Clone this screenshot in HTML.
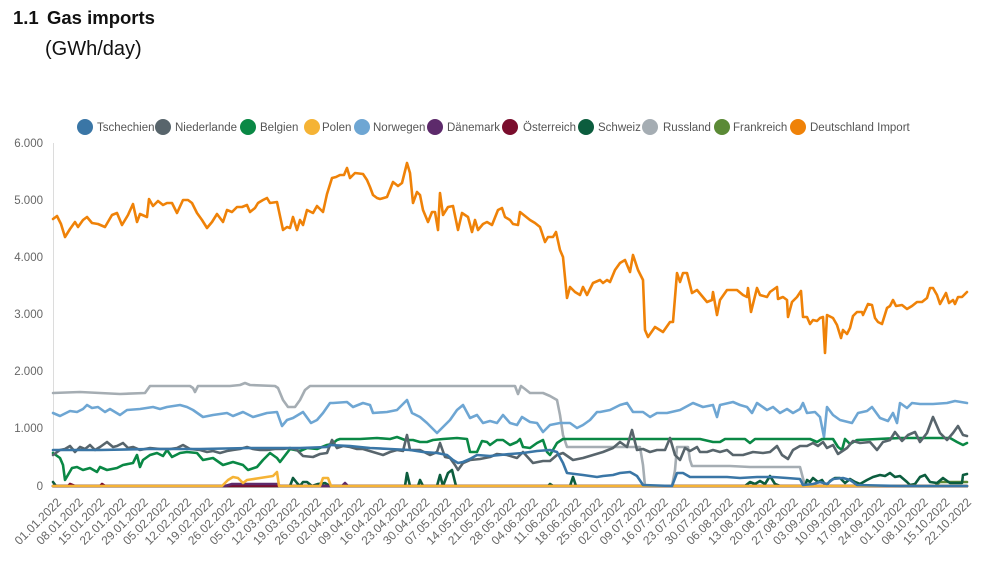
<!DOCTYPE html>
<html><head><meta charset="utf-8"><style>
html,body{margin:0;padding:0;background:#fff;}
svg{display:block;}
text{font-family:"Liberation Sans",Arial,sans-serif;}
</style></head><body>
<svg width="991" height="580" viewBox="0 0 991 580" xmlns="http://www.w3.org/2000/svg">
<rect width="991" height="580" fill="#fff"/>
<text x="13" y="24" font-size="18.5" font-weight="bold" fill="#111">1.1</text>
<text x="47" y="24" font-size="18.5" font-weight="bold" fill="#111">Gas imports</text>
<text x="45" y="55" font-size="20" fill="#111">(GWh/day)</text>

<!-- legend -->
<g font-size="11.5" fill="#555">
<circle cx="85" cy="127" r="8" fill="#3a76a6"/><text x="97" y="131">Tschechien</text>
<circle cx="163" cy="127" r="8" fill="#58656c"/><text x="175" y="131">Niederlande</text>
<circle cx="248" cy="127" r="8" fill="#0a8845"/><text x="260" y="131">Belgien</text>
<circle cx="312" cy="127" r="8" fill="#f5b335"/><text x="322" y="131">Polen</text>
<circle cx="362" cy="127" r="8" fill="#6ea6d3"/><text x="373" y="131">Norwegen</text>
<circle cx="435" cy="127" r="8" fill="#5d2a6b"/><text x="447" y="131">Dänemark</text>
<circle cx="510" cy="127" r="8" fill="#7a0d2d"/><text x="523" y="131">Österreich</text>
<circle cx="586" cy="127" r="8" fill="#0c5d3e"/><text x="598" y="131">Schweiz</text>
<circle cx="650" cy="127" r="8" fill="#a5adb3"/><text x="663" y="131">Russland</text>
<circle cx="722" cy="127" r="8" fill="#5b8a36"/><text x="733" y="131">Frankreich</text>
<circle cx="798" cy="127" r="8" fill="#ef8208"/><text x="810" y="131">Deutschland Import</text>
</g>

<!-- axes -->
<line x1="53.5" y1="143" x2="53.5" y2="487" stroke="#dcdcdc" stroke-width="1"/>
<line x1="53" y1="487.5" x2="968" y2="487.5" stroke="#e2e2e2" stroke-width="1"/>
<g font-size="11.5" fill="#666" text-anchor="end">
<text x="43" y="147">6.000</text>
<text x="43" y="204">5.000</text>
<text x="43" y="261">4.000</text>
<text x="43" y="318">3.000</text>
<text x="43" y="375">2.000</text>
<text x="43" y="432">1.000</text>
<text x="43" y="490">0</text>
</g>

<g font-size="12" fill="#666" text-anchor="end">
<text transform="translate(62,503) rotate(-45)">01.01.2022</text>
<text transform="translate(83.7,503) rotate(-45)">08.01.2022</text>
<text transform="translate(105.3,503) rotate(-45)">15.01.2022</text>
<text transform="translate(127,503) rotate(-45)">22.01.2022</text>
<text transform="translate(148.7,503) rotate(-45)">29.01.2022</text>
<text transform="translate(170.3,503) rotate(-45)">05.02.2022</text>
<text transform="translate(192,503) rotate(-45)">12.02.2022</text>
<text transform="translate(213.7,503) rotate(-45)">19.02.2022</text>
<text transform="translate(235.3,503) rotate(-45)">26.02.2022</text>
<text transform="translate(257,503) rotate(-45)">05.03.2022</text>
<text transform="translate(278.7,503) rotate(-45)">12.03.2022</text>
<text transform="translate(300.3,503) rotate(-45)">19.03.2022</text>
<text transform="translate(322,503) rotate(-45)">26.03.2022</text>
<text transform="translate(343.7,503) rotate(-45)">02.04.2022</text>
<text transform="translate(365.3,503) rotate(-45)">09.04.2022</text>
<text transform="translate(387,503) rotate(-45)">16.04.2022</text>
<text transform="translate(408.7,503) rotate(-45)">23.04.2022</text>
<text transform="translate(430.3,503) rotate(-45)">30.04.2022</text>
<text transform="translate(452,503) rotate(-45)">07.05.2022</text>
<text transform="translate(473.7,503) rotate(-45)">14.05.2022</text>
<text transform="translate(495.3,503) rotate(-45)">21.05.2022</text>
<text transform="translate(517,503) rotate(-45)">28.05.2022</text>
<text transform="translate(538.7,503) rotate(-45)">04.06.2022</text>
<text transform="translate(560.3,503) rotate(-45)">11.06.2022</text>
<text transform="translate(582,503) rotate(-45)">18.06.2022</text>
<text transform="translate(603.7,503) rotate(-45)">25.06.2022</text>
<text transform="translate(625.3,503) rotate(-45)">02.07.2022</text>
<text transform="translate(647,503) rotate(-45)">09.07.2022</text>
<text transform="translate(668.7,503) rotate(-45)">16.07.2022</text>
<text transform="translate(690.3,503) rotate(-45)">23.07.2022</text>
<text transform="translate(712,503) rotate(-45)">30.07.2022</text>
<text transform="translate(733.7,503) rotate(-45)">06.08.2022</text>
<text transform="translate(755.3,503) rotate(-45)">13.08.2022</text>
<text transform="translate(777,503) rotate(-45)">20.08.2022</text>
<text transform="translate(798.7,503) rotate(-45)">27.08.2022</text>
<text transform="translate(820.3,503) rotate(-45)">03.09.2022</text>
<text transform="translate(842,503) rotate(-45)">10.09.2022</text>
<text transform="translate(863.7,503) rotate(-45)">17.09.2022</text>
<text transform="translate(885.3,503) rotate(-45)">24.09.2022</text>
<text transform="translate(907,503) rotate(-45)">01.10.2022</text>
<text transform="translate(928.7,503) rotate(-45)">08.10.2022</text>
<text transform="translate(950.3,503) rotate(-45)">15.10.2022</text>
<text transform="translate(972,503) rotate(-45)">22.10.2022</text>
</g>

<g fill="none" stroke-width="2.6" stroke-linejoin="round" stroke-linecap="round">
<!-- Deutschland Import -->
<polyline stroke="#ef8208" points="53,219 57,216 61,224 65,237 70,229 75,222 78,227 83,220 87,217 92,223 98,224 105,227 112,215 117,213 122,225 128,215 133,204 137,222 140,214 147,217 149,199 153,206 158,201 163,205 167,203 172,203 177,213 183,200 188,200 192,203 197,213 202,220 207,228 212,222 217,214 223,222 227,210 232,212 237,207 242,207 247,205 250,212 255,208 258,203 263,200 267,198 270,203 277,202 283,230 287,227 290,228 293,217 297,230 300,220 303,225 307,210 313,213 317,206 323,212 327,194 332,178 336,177 340,175 344,175 347,168 350,178 355,173 363,174 367,180 370,187 373,195 377,198 380,199 387,197 393,182 398,186 402,183 407,163 410,173 413,203 417,192 420,195 423,210 428,222 432,212 435,212 438,230 440,193 443,215 448,207 453,206 458,230 462,213 468,217 472,232 475,220 478,230 483,224 487,222 492,225 498,210 502,208 505,217 510,220 513,224 518,225 520,212 525,216 530,220 535,223 540,227 545,242 548,237 553,237 556,232 560,250 563,257 567,298 570,287 575,292 580,295 583,287 587,295 593,283 600,280 603,283 607,280 610,282 615,270 620,263 625,260 630,272 633,255 638,270 643,280 645,330 648,337 655,327 663,332 670,322 673,322 677,273 680,282 683,273 687,273 692,293 697,290 702,296 707,302 712,300 713,292 717,315 720,300 727,290 737,290 743,295 747,297 748,288 751,312 757,288 760,295 767,297 770,292 777,287 778,299 783,297 787,300 788,317 792,302 797,297 801,291 803,317 807,317 810,324 813,320 817,321 820,318 823,317 825,353 827,315 833,318 837,325 841,338 843,330 847,334 850,328 853,316 857,312 862,312 863,315 868,304 872,305 875,318 878,322 882,324 887,308 890,306 893,300 896,306 902,305 907,309 912,306 917,302 922,302 927,298 930,288 933,288 937,295 940,304 946,293 949,303 953,300 955,304 958,297 962,297 967,292"/>
<!-- Frankreich -->
<polyline stroke="#5b8a36" points="53,486 935,486 940,482 967,482"/>
<!-- Russland -->
<polyline stroke="#a5adb3" points="53,393 80,392 100,393 120,394 145,393 150,386 190,386 193,388 195,392 198,386 230,386 240,385 245,383 250,385 275,386 278,388 283,400 288,407 295,407 300,400 305,390 310,386 340,386 400,386 450,386 515,386 518,394 521,386 525,389 530,393 543,393 550,396 557,400 560,415 563,435 567,447 600,447 640,447 643,465 645,486 672,486 675,470 677,447 688,447 690,460 692,466 730,466 750,467 770,467 790,467 800,467 805,486 967,486"/>
<!-- Schweiz -->
<polyline stroke="#0c5d3e" points="53,482 56,486 290,486 293,478 297,483 300,486 303,482 307,482 312,486 318,484 325,483 330,486 405,486 407,473 410,486 418,486 420,480 423,486 437,486 440,475 443,486 448,473 452,470 456,486 548,486 550,484 553,486 570,486 573,477 576,486 745,486 750,482 755,484 760,481 765,484 770,476 775,484 780,486 805,486 807,480 810,482 813,478 818,482 822,480 826,486 830,481 835,478 840,478 845,483 850,479 855,482 860,484 867,480 873,477 880,475 885,476 890,473 895,477 900,476 907,482 910,485 915,484 920,477 925,475 930,482 937,483 943,478 950,483 955,483 962,483 963,475 967,474"/>
<!-- Österreich -->
<polyline stroke="#7a0d2d" points="53,486 68,486 70,484 75,486 100,486 102,484 105,486 967,486"/>
<!-- Dänemark -->
<polyline stroke="#5d2a6b" points="53,486 225,486 232,484 278,484 280,486 342,486 345,483 348,486 967,486"/>
<!-- Norwegen -->
<polyline stroke="#6ea6d3" points="53,413 60,416 70,411 77,412 83,409 87,405 92,408 98,407 105,412 110,409 120,415 127,410 140,409 153,407 160,409 167,407 180,405 187,407 193,410 203,417 213,415 227,413 233,416 243,412 253,417 267,413 277,412 282,426 287,420 293,418 303,412 311,423 317,420 323,413 330,403 333,403 347,402 353,407 363,403 370,405 373,413 387,412 397,410 407,400 412,413 420,417 427,423 437,433 443,427 450,420 457,410 463,405 470,418 477,415 483,423 490,421 497,423 503,415 510,423 517,425 522,417 530,422 537,423 543,432 550,425 560,423 570,423 577,428 583,425 590,420 597,412 600,412 610,410 620,405 627,403 633,412 643,412 650,417 657,413 667,413 680,410 693,403 703,407 713,405 717,417 720,405 733,402 740,405 747,407 752,413 757,403 767,410 773,407 780,413 787,409 793,413 800,409 803,403 807,413 815,412 820,417 824,437 827,407 833,415 840,420 852,423 858,413 867,411 872,407 880,418 888,421 893,413 897,423 900,403 907,408 912,403 920,404 933,404 947,403 955,401 967,403"/>
<!-- Polen -->
<polyline stroke="#f5b335" points="53,486 222,486 228,480 233,477 238,478 243,483 247,480 260,478 273,476 277,472 279,486 320,486 323,478 328,478 331,486 967,486"/>
<!-- Belgien -->
<polyline stroke="#0a8845" points="53,453 60,458 63,465 65,480 72,468 77,467 83,470 90,468 97,472 100,467 107,470 117,468 123,465 133,463 137,455 140,467 143,460 150,455 157,453 163,456 167,450 172,457 180,453 187,452 197,453 203,460 213,458 223,465 233,462 243,465 248,470 257,467 263,460 270,453 277,458 280,462 290,449 300,451 307,448 317,449 327,445 332,444 337,440 340,439 360,439 377,438 390,439 397,437 405,440 413,440 420,442 427,442 433,440 443,439 457,438 467,439 470,452 477,452 482,441 487,442 490,445 497,440 503,440 510,445 517,442 520,439 523,447 530,448 537,443 543,440 547,452 550,455 557,443 563,439 600,439 640,439 700,439 713,442 720,442 725,439 745,439 750,443 755,439 810,439 817,442 822,439 833,439 838,447 842,450 845,439 850,444 857,440 900,438 950,438 957,442 963,445 967,443"/>
<!-- Niederlande -->
<polyline stroke="#58656c" points="53,455 60,450 65,449 70,446 75,452 80,447 85,449 90,445 95,450 100,447 107,442 113,447 117,446 123,443 128,448 133,447 140,450 150,448 160,449 170,449 177,448 183,445 190,449 200,450 207,452 213,451 220,453 227,451 233,450 240,449 247,447 253,449 260,450 267,450 275,449 283,449 290,448 297,450 303,456 313,457 320,454 327,453 332,440 337,448 343,446 350,447 357,449 363,449 373,452 383,455 390,452 397,450 403,451 407,435 410,450 420,450 430,455 437,452 440,443 445,457 450,458 455,465 458,470 463,463 470,460 480,459 490,457 497,454 507,455 517,458 523,452 533,463 543,461 550,461 557,455 563,453 573,460 583,458 593,455 603,452 613,448 620,442 627,447 632,430 637,450 643,449 650,452 657,450 665,450 670,438 675,455 680,460 685,448 690,451 697,447 700,452 707,452 713,450 720,452 727,450 733,455 743,455 753,452 763,453 770,452 777,446 782,455 788,459 793,450 800,446 807,446 813,443 818,446 823,442 827,448 833,445 838,454 847,448 853,441 860,443 870,442 877,450 883,442 890,440 895,432 902,441 908,435 915,432 920,442 927,433 933,417 940,433 947,440 953,433 958,426 963,435 967,436"/>
<!-- Tschechien -->
<polyline stroke="#3a76a6" points="53,450 100,450 150,449 200,449 250,448 300,448 327,447 330,445 350,446 370,448 390,449 410,450 423,452 437,453 447,455 453,460 458,463 463,462 470,459 477,455 490,456 500,455 510,454 523,453 537,451 550,450 557,452 563,463 567,473 583,475 597,477 603,476 613,475 620,473 630,472 637,476 643,485 672,486 677,473 683,473 690,477 713,477 727,477 740,478 757,477 773,477 787,478 800,479 803,485 813,484 820,482 827,484 833,479 843,478 850,480 857,485 900,486 967,486"/>
</g>
</svg>
</body></html>
